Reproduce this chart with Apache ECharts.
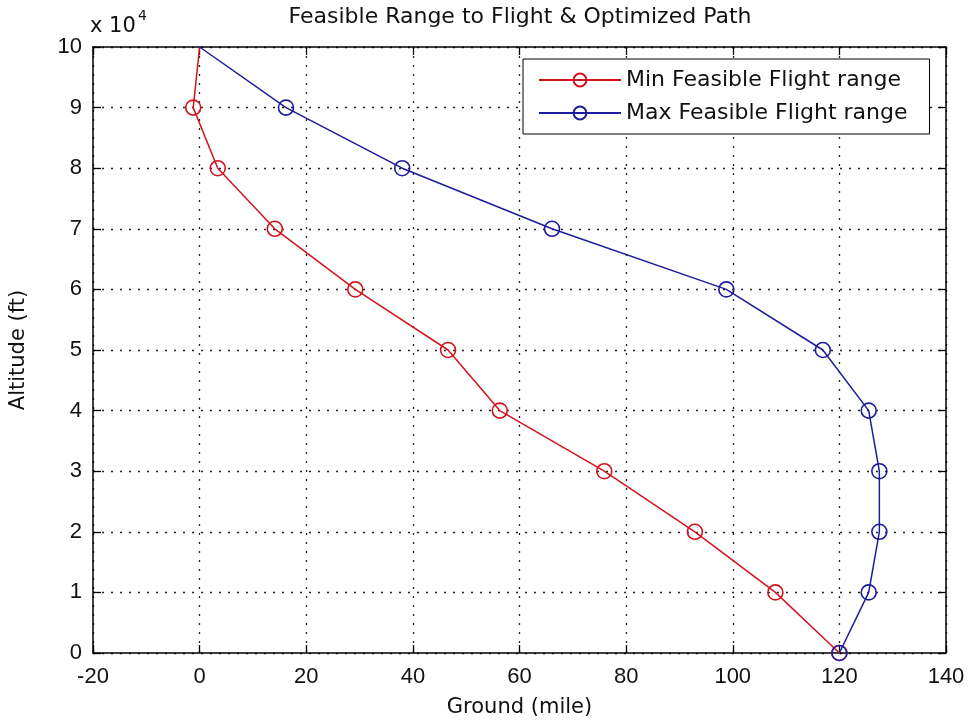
<!DOCTYPE html>
<html>
<head>
<meta charset="utf-8">
<title>Feasible Range to Flight &amp; Optimized Path</title>
<script src="https://cdn.jsdelivr.net/npm/echarts@6/dist/echarts.min.js"></script>
<style>
  html, body { margin: 0; padding: 0; background: #fff; }
  #chart { width: 971px; height: 723px; }
</style>
</head>
<body>
<div id="chart"></div>
<script>
// Altitude levels (ft) and the ground range (mile) reachable at each level
const altitudeFt = [0, 10000, 20000, 30000, 40000, 50000, 60000, 70000, 80000, 90000, 100000];
const minRangeMile = [120, 108.0, 92.9, 75.9, 56.3, 46.6, 29.2, 14.1, 3.4, -1.2, 0];
const maxRangeMile = [120, 125.5, 127.5, 127.5, 125.5, 116.9, 98.8, 66.1, 38.0, 16.2, 0];

// Axis ranges and tick spacing
const xTicks = { min: -20, max: 140, step: 20 };
const yTicks = { min: 0, max: 100000, step: 10000 };
const yScaleDivisor = 10000;

const seriesNames = ['Min Feasible Flight range', 'Max Feasible Flight range'];

const RED = '#d2141c';
const BLUE = '#1c1c9c';
const TEXT_FONT = 'DejaVu Sans';
const NUM_FONT = 'Liberation Sans';

function buildPoints(xs) {
  return xs.map((x, i) => {
    const pt = { value: [x, altitudeFt[i]] };
    // the path's top end carries no marker
    if (i === xs.length - 1) pt.symbol = 'none';
    return pt;
  });
}

const dotted = { type: [2, 7], color: '#222', width: 1.3 };
const frameLine = { show: true, onZero: false, lineStyle: { color: '#000', width: 1.5 } };
const innerTick = { show: true, inside: true, length: 8, lineStyle: { color: '#000', width: 1.3 } };

function xAxis(position, labelled) {
  return {
    type: 'value', position,
    min: xTicks.min, max: xTicks.max, interval: xTicks.step,
    axisLine: frameLine, axisTick: innerTick,
    axisLabel: labelled ? { show: true, margin: 13, fontFamily: NUM_FONT, fontSize: 22, color: '#111' } : { show: false },
    splitLine: labelled ? { show: true, lineStyle: dotted } : { show: false },
    name: labelled ? 'Ground (mile)' : '',
    nameLocation: 'middle', nameGap: 44,
    nameTextStyle: { fontFamily: TEXT_FONT, fontSize: 21, color: '#111' }
  };
}

function yAxis(position, labelled) {
  return {
    type: 'value', position,
    min: yTicks.min, max: yTicks.max, interval: yTicks.step,
    axisLine: frameLine, axisTick: innerTick,
    axisLabel: labelled ? {
      show: true, margin: 11, fontFamily: NUM_FONT, fontSize: 22, color: '#111',
      formatter: v => String(v / yScaleDivisor)
    } : { show: false },
    splitLine: labelled ? { show: true, lineStyle: dotted } : { show: false },
    name: labelled ? 'Altitude (ft)' : '',
    nameLocation: 'middle', nameGap: 64, nameRotate: 90,
    nameTextStyle: { fontFamily: TEXT_FONT, fontSize: 21, color: '#111' }
  };
}

function lineSeries(name, xs, color) {
  return {
    name, type: 'line',
    data: buildPoints(xs),
    symbol: 'circle', symbolSize: 15,
    clip: false,
    lineStyle: { color, width: 1.5 },
    itemStyle: { color: 'rgba(255,255,255,0)', borderColor: color, borderWidth: 1.6 },
    emphasis: { disabled: true },
    animation: false
  };
}

const chart = echarts.init(document.getElementById('chart'), null, { renderer: 'canvas' });
chart.setOption({
  backgroundColor: '#fff',
  animation: false,
  grid: { left: 90, right: 25, top: 47, bottom: 67 },
  xAxis: [xAxis('bottom', true), xAxis('top', false)],
  yAxis: [yAxis('left', true), yAxis('right', false)],
  legend: {
    orient: 'vertical',
    left: 523, top: 59,
    padding: [10, 22, 10, 15],
    itemWidth: 82, itemHeight: 16, itemGap: 11,
    borderColor: '#000', borderWidth: 1,
    backgroundColor: '#fff',
    borderRadius: 0,
    selectedMode: false,
    textStyle: { fontFamily: TEXT_FONT, fontSize: 22, color: '#111' },
    data: seriesNames
  },
  graphic: [
    {
      type: 'text', x: 520, y: 17, silent: true,
      style: { text: 'Feasible Range to Flight & Optimized Path', align: 'center', verticalAlign: 'middle',
               font: '22px "' + TEXT_FONT + '"', fill: '#111' }
    },
    {
      type: 'text', x: 90, y: 27, silent: true,
      style: { text: 'x 10', align: 'left', verticalAlign: 'middle', font: '21px "' + TEXT_FONT + '"', fill: '#111' }
    },
    {
      type: 'text', x: 138, y: 16, silent: true,
      style: { text: '4', align: 'left', verticalAlign: 'middle', font: '14px "' + TEXT_FONT + '"', fill: '#111' }
    }
  ],
  series: [
    lineSeries(seriesNames[0], minRangeMile, RED),
    lineSeries(seriesNames[1], maxRangeMile, BLUE)
  ]
});
</script>
</body>
</html>
